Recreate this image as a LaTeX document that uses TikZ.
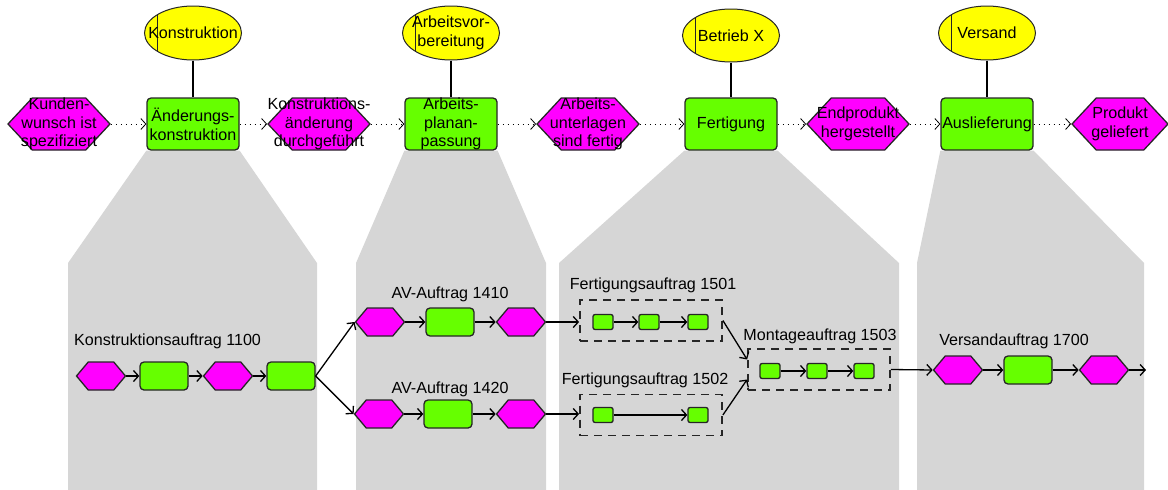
\documentclass[tikz,border=0pt]{standalone}
\usepackage{fontspec}
\setmainfont{Liberation Sans}
\usetikzlibrary{arrows.meta, positioning, shapes.geometric, shapes.symbols, backgrounds}
\definecolor{fktgreen}{RGB}{102,255,0}
\definecolor{evmagenta}{RGB}{255,0,255}
\definecolor{orgyellow}{RGB}{255,255,0}
\definecolor{zoomgray}{RGB}{214,214,214}
\tikzset{
  func/.style     = {draw=black!85, line width=1.3pt, rounded corners=4pt, fill=fktgreen,
                     minimum width=92, minimum height=52, inner sep=0pt},
  event/.style    = {signal, signal to=west and east, signal pointer angle=94,
                     draw=black!85, line width=1.3pt, fill=evmagenta,
                     minimum width=102, minimum height=52, inner sep=0pt},
  subfunc/.style  = {func, minimum width=48, minimum height=28},
  subevent/.style = {event, signal pointer angle=100, minimum width=49, minimum height=28},
  tinyfunc/.style = {func, rounded corners=2pt, minimum width=20, minimum height=15},
  orgunit/.style  = {ellipse, draw=black!85, line width=1pt, fill=orgyellow,
                     minimum width=97, minimum height=54, inner sep=0pt,
                     path picture={\draw[line width=1.2pt]
                       ([xshift=13pt]path picture bounding box.south west) --
                       ([xshift=13pt]path picture bounding box.north west);}},
  intext/.style   = {align=center, inner sep=0pt},
  auftrag/.style  = {draw=black!85, line width=1.8pt, dash pattern=on 8pt off 6pt,
                     minimum width=142, minimum height=41, inner sep=0pt},
  flow/.style     = {-{Straight Barb[length=5pt,width=11pt]}, line width=0.8pt,
                     dash pattern=on 1.2pt off 3.8pt},
  arrow/.style    = {-{Straight Barb[length=5pt,width=11pt]}, line width=1.3pt},
  link/.style     = {line width=1.1pt},
}

\begin{document}
\begin{tikzpicture}[x=1pt, y=-1pt, every node/.style={font=\fontsize{16.1}{18.8}\selectfont}]
  \useasboundingbox (0,0) rectangle (1168,490);

  % process chain: events
  \foreach \i/\x/\txt in {1/59/{Kunden-\\wunsch ist\\spezifiziert},
                          2/319/{Konstruktions-\\änderung\\durchgeführt},
                          3/588/{Arbeits-\\unterlagen\\sind fertig},
                          4/858/{Endprodukt\\hergestellt}} {
    \node[event, label={[intext]center:\txt}] (ev\i) at (\x,124) {};
  }
  \node[event, minimum width=96, label={[intext]center:Produkt\\geliefert}] (ev5) at (1120,124) {};

  % process chain: functions
  \foreach \i/\x/\txt in {1/193/{Änderungs-\\konstruktion},
                          2/451/{Arbeits-\\planan-\\passung},
                          3/731/{Fertigung},
                          4/987/{Auslieferung}} {
    \node[func, label={[intext]center:\txt}] (fn\i) at (\x,124) {};
  }

  % organisational units
  \node[orgunit, label={[intext]center:Konstruktion}] (ol1) at (193,33) {};
  \node[orgunit, label={[intext]center:Arbeitsvor-\\bereitung}] (ol2) at (451,33) {};
  \node[orgunit, minimum height=53, label={[intext]center:Betrieb X}] (ol3) at (731,35.5) {};
  \node[orgunit, label={[intext]center:Versand}] (ol4) at (987,33) {};
  \foreach \i in {1,...,4} \draw[link] (ol\i) -- (fn\i);

  \foreach \a/\b in {ev1/fn1, fn1/ev2, ev2/fn2, fn2/ev3, ev3/fn3, fn3/ev4, ev4/fn4, fn4/ev5}
    \draw[flow] (\a) -- (\b);

  % order labels
  \node[anchor=west, inner sep=0pt] (t1100) at (74,341) {Konstruktionsauftrag 1100};
  \node[inner sep=0pt] (t1410) at (450,294) {AV-Auftrag 1410};
  \node[inner sep=0pt] (t1420) at (450,389) {AV-Auftrag 1420};
  \node[inner sep=0pt] (t1501) at (653,285) {Fertigungsauftrag 1501};
  \node[inner sep=0pt] (t1502) at (645,380) {Fertigungsauftrag 1502};
  \node[inner sep=0pt] (t1503) at (820,336) {Montageauftrag 1503};
  \node[inner sep=0pt] (t1700) at (1014,341) {Versandauftrag 1700};

  % Konstruktionsauftrag
  \node[subevent] (hA) at (101,376) {};
  \node[subfunc]  (fB) at (164,376) {};
  \node[subevent] (hC) at (228,376) {};
  \node[subfunc]  (fD) at (291,376) {};
  % AV-Auftraege
  \node[subevent] (hE) at (380,322) {};
  \node[subfunc]  (fF) at (450,322) {};
  \node[subevent] (hG) at (521,322) {};
  \node[subevent] (hH) at (379,414) {};
  \node[subfunc]  (fI) at (448,414) {};
  \node[subevent] (hJ) at (521,414) {};
  % Fertigung / Montage
  \node[auftrag] (a1501) at (651,320.5) {};
  \node[auftrag] (a1502) at (651,415) {};
  \node[auftrag] (a1503) at (819,369.5) {};
  \foreach \n/\x in {p1/603, p2/649, p3/698} \node[tinyfunc] (\n) at (\x,322) {};
  \foreach \n/\x in {q1/603, q2/698} \node[tinyfunc] (\n) at (\x,415) {};
  \foreach \n/\x in {r1/770, r2/817, r3/864} \node[tinyfunc] (\n) at (\x,371) {};
  % Versandauftrag
  \node[subevent] (hK) at (958,370) {};
  \node[subfunc]  (fL) at (1028,370) {};
  \node[subevent] (hM) at (1104,370) {};
  \coordinate (vend) at (1146,370);

  \foreach \a/\b in {hA/fB, fB/hC, hC/fD, hE/fF, fF/hG, hH/fI, fI/hJ,
                     p1/p2, p2/p3, q1/q2, r1/r2, r2/r3, hK/fL, fL/hM, hM/vend}
    \draw[arrow] (\a) -- (\b);
  \draw[arrow] (fD.east) -- (hE.west);
  \draw[arrow] (fD.east) -- (hH.west);
  \draw[arrow] (hG.east) -- (hG.east -| a1501.west);
  \draw[arrow] (hJ.east) -- (hJ.east -| a1502.west);
  \draw[arrow] (a1501.east) -- ([yshift=10pt]a1503.west);
  \draw[arrow] (a1502.east) -- ([yshift=-10pt]a1503.west);
  \draw[arrow] (a1503.east) -- (hK.west);

  % zoom funnels
  \begin{scope}[on background layer]
    \foreach \i/\l/\r in {1/68/317, 2/356/546, 3/559/899, 4/917/1144}
      \fill[zoomgray] (fn\i.south west) -- (fn\i.south east) -- (\r,263) -- (\r,490)
                      -- (\l,490) -- (\l,263) -- cycle;
  \end{scope}
\end{tikzpicture}
\end{document}
